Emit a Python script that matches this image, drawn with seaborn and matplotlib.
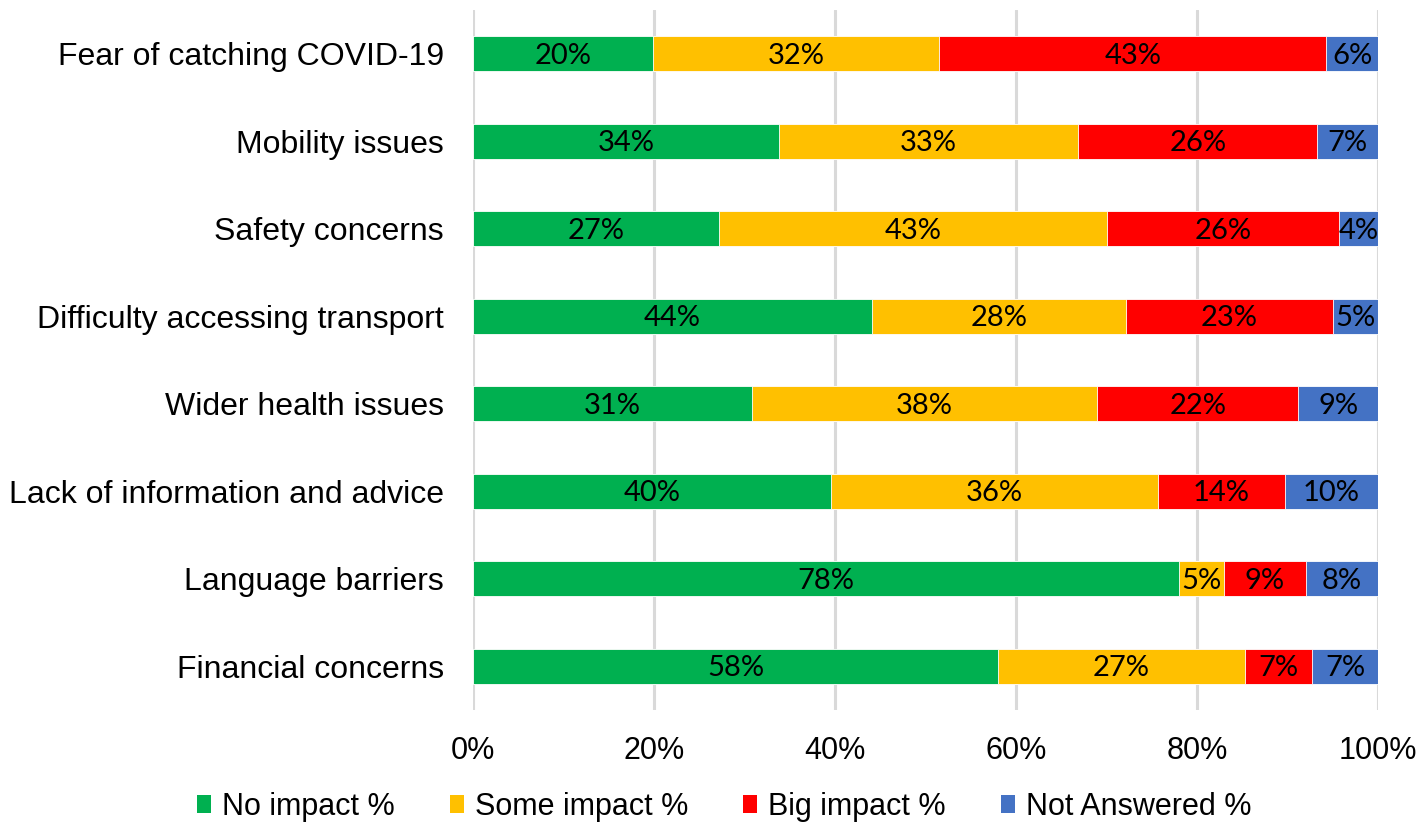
import pandas as pd
import matplotlib.pyplot as plt
import seaborn as sns
from matplotlib.patches import Patch
from matplotlib.ticker import PercentFormatter

# Survey results (% of respondents)
categories = [
    'Fear of catching COVID-19',
    'Mobility issues',
    'Safety concerns',
    'Difficulty accessing transport',
    'Wider health issues',
    'Lack of information and advice',
    'Language barriers',
    'Financial concerns',
]
no_impact = [19.9, 33.8, 27.2, 44.1, 30.8, 39.6, 78.0, 58.0]
some_impact = [31.6, 33.1, 42.8, 28.0, 38.2, 36.1, 5.0, 27.3]
big_impact = [42.8, 26.4, 25.7, 22.9, 22.2, 14.0, 9.0, 7.4]
not_answered = [5.7, 6.7, 4.3, 5.0, 8.8, 10.3, 8.0, 7.3]

series_names = ['No impact %', 'Some impact %', 'Big impact %', 'Not Answered %']
colors = ['#00B050', '#FFC000', '#FF0000', '#4472C4']

df = pd.DataFrame({
    'Category': categories,
    'No impact %': no_impact,
    'Some impact %': some_impact,
    'Big impact %': big_impact,
    'Not Answered %': not_answered,
})

# 100% stacked: normalise each row, then cumulative ends for layering
vals = df[series_names]
vals = vals.div(vals.sum(axis=1), axis=0) * 100
cum = vals.cumsum(axis=1)

sns.set_style('white')
plt.rcParams['font.family'] = ['Liberation Sans', 'DejaVu Sans']
plt.rcParams['text.color'] = 'black'
plt.rcParams['xtick.color'] = 'black'
plt.rcParams['ytick.color'] = 'black'

fig = plt.figure(figsize=(14.22, 8.22), dpi=100)
ax = fig.add_axes([473 / 1422, 112 / 822, 905 / 1422, 700 / 822])

# draw longest cumulative first so shorter ones sit on top
for name, color in reversed(list(zip(series_names, colors))):
    sns.barplot(x=cum[name], y=df['Category'], color=color, width=0.4,
                orient='h', edgecolor='white', linewidth=0.6, ax=ax,
                saturation=1, zorder=3)

# segment labels
for i in range(len(df)):
    start = 0
    for name in series_names:
        v = vals.iloc[i][name]
        ax.text(start + v / 2, i + 0.02, f'{round(v)}%', ha='center', va='center',
                fontsize=21, family=['Lato', 'DejaVu Sans'], color='black', zorder=4)
        start += v

ax.set_xlim(0, 100)
ax.set_ylim(len(df) - 0.5, -0.5)
ax.set_xticks(range(0, 101, 20))
ax.xaxis.set_major_formatter(PercentFormatter(decimals=0))
ax.xaxis.grid(True, color='#D9D9D9', linewidth=2.2, zorder=0)
ax.yaxis.grid(False)
ax.set_axisbelow(True)
for s in ax.spines.values():
    s.set_visible(False)
ax.tick_params(axis='x', length=0, pad=19, labelsize=22)
ax.tick_params(axis='y', length=0, pad=21, labelsize=23)
ax.set_xlabel('')
ax.set_ylabel('')

handles = [Patch(facecolor=c, edgecolor='none', label=n) for n, c in zip(series_names, colors)]
fig.legend(handles=handles, loc='center', bbox_to_anchor=(724 / 1422, 1 - 807 / 822),
           ncol=4, frameon=False, fontsize=22, handlelength=0.46, handleheight=0.5,
           handletextpad=0.36, columnspacing=1.8, borderaxespad=0, borderpad=0)

fig.savefig('out.png', dpi=100)
